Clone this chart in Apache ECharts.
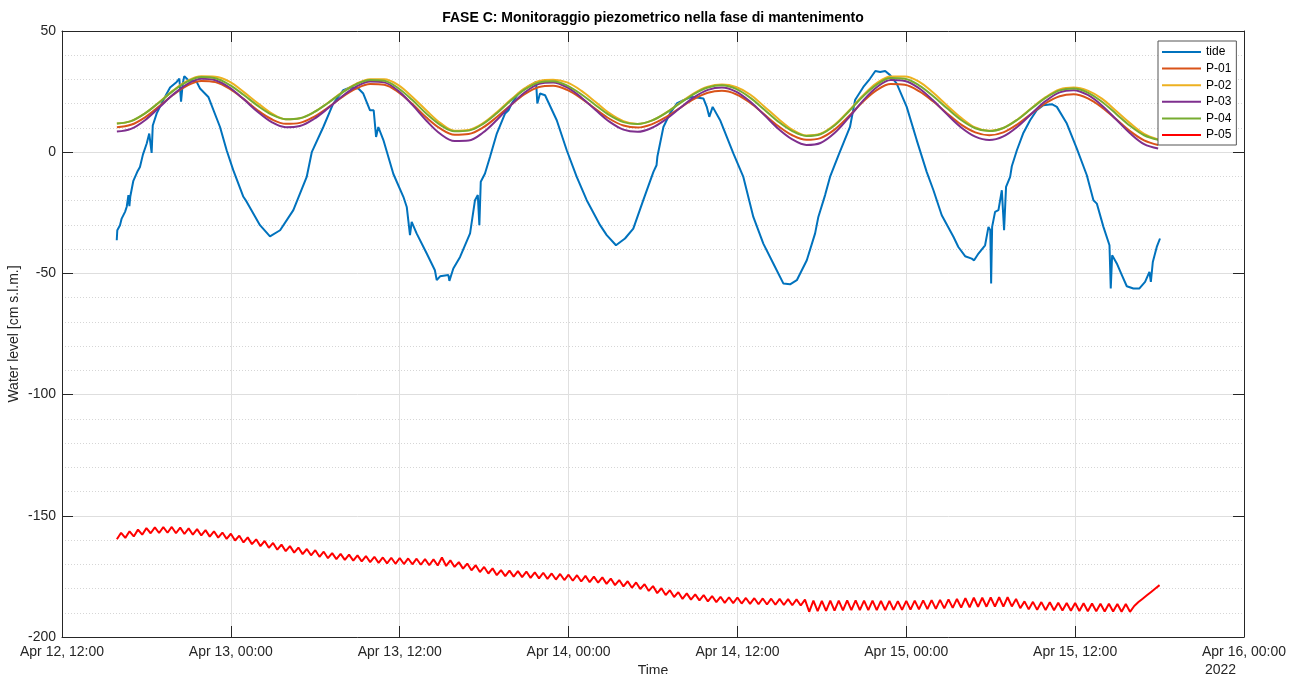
<!DOCTYPE html>
<html>
<head>
<meta charset="utf-8">
<script src="https://cdn.jsdelivr.net/npm/echarts@6/dist/echarts.min.js"></script>
<style>
html,body{margin:0;padding:0;background:#fff;}
#chart{width:1294px;height:674px;}
</style>
</head>
<body>
<div id="chart"></div>
<script>
// ---- Data (hours since Apr 12 2022, 12:00) ----
const xTickLabels = ['Apr 12, 12:00','Apr 13, 00:00','Apr 13, 12:00','Apr 14, 00:00','Apr 14, 12:00','Apr 15, 00:00','Apr 15, 12:00','Apr 16, 00:00'];
const yTicks = [-200, -150, -100, -50, 0, 50];
const seriesNames = ['tide','P-01','P-02','P-03','P-04','P-05'];

const tideHours = [
3.89,3.93,4.12,4.24,4.48,4.60,4.72,4.79,4.85,5.07,5.35,5.54,5.75,6.02,6.20,6.37,6.45,6.73,7.20,7.68,
8.15,8.34,8.46,8.58,8.69,8.98,9.57,9.81,10.40,11.23,11.70,12.17,12.89,13.13,14.07,14.78,15.50,16.44,17.39,17.75,
18.57,19.28,19.99,20.47,21.06,21.41,21.89,22.15,22.32,22.48,22.84,23.55,24.26,24.50,24.73,24.85,25.20,25.92,26.50,26.63,
26.87,27.46,27.53,27.81,28.29,29.00,29.35,29.55,29.66,29.76,30.06,30.42,30.90,31.49,31.73,31.96,32.43,33.03,33.50,33.69,
33.78,33.97,34.33,35.16,35.87,36.58,37.29,38.24,38.71,39.37,40.01,40.60,41.31,42.03,42.25,42.31,42.74,43.21,43.69,44.16,
44.75,45.10,45.58,45.82,46.00,46.24,46.77,47.71,48.42,49.13,49.84,50.55,51.27,51.74,52.22,52.93,53.52,53.75,54.23,54.58,
55.20,56.00,56.36,56.95,57.43,57.80,58.14,58.50,58.85,59.32,60.03,60.74,61.45,61.93,62.52,63.35,63.70,64.18,64.65,64.82,
65.13,65.60,65.84,65.97,66.03,66.10,66.31,66.55,66.79,66.95,67.09,67.38,67.50,67.86,68.30,68.80,69.27,69.74,70.34,70.70,
71.41,72.12,72.83,73.30,73.54,74.01,74.44,74.53,74.63,74.96,75.32,75.67,76.14,76.57,76.97,77.28,77.38,77.52,77.80,78.03];
const tideLevels = [
-36.3,-32.2,-30.1,-27.4,-24.6,-22.5,-17.7,-22.3,-18.4,-11.8,-8.1,-6.1,-1.0,3.6,7.7,-0.3,11.0,16.0,21.5,26.7,
29.0,30.4,20.8,28.3,31.4,29.7,29.0,26.3,22.8,10.4,0.8,-7.4,-18.4,-20.5,-30.1,-34.7,-32.2,-23.9,-10.2,0.0,
10.4,20.1,25.6,26.7,26.3,24.2,17.3,17.3,6.3,10.4,5.0,-9.0,-18.4,-22.6,-34.2,-28.7,-33.5,-41.8,-48.7,-52.8,
-51.2,-50.7,-53.1,-48.0,-43.2,-33.5,-19.8,-17.7,-30.1,-12.2,-8.8,-1.9,7.7,16.0,17.3,20.1,24.2,26.7,28.3,29.0,
20.1,24.2,23.5,13.2,0.8,-10.2,-19.8,-30.1,-34.2,-38.4,-35.6,-31.5,-19.8,-8.1,-5.4,-1.9,10.4,16.0,20.1,21.5,
22.8,22.6,22.2,18.7,14.6,18.7,13.2,-0.5,-10.2,-26.7,-37.7,-45.9,-54.2,-54.5,-52.8,-44.6,-33.5,-26.7,-17.7,-10.2,
-1.0,10.4,21.5,26.9,30.4,33.5,33.1,33.5,31.8,28.3,18.7,5.0,-8.1,-15.7,-26.0,-34.9,-39.1,-42.9,-43.9,-44.6,
-41.8,-38.4,-30.8,-32.2,-54.2,-30.8,-24.6,-23.9,-15.7,-32.2,-14.3,-10.2,-5.8,0.8,7.7,13.2,17.3,19.4,19.8,18.7,
11.8,1.5,-9.5,-19.8,-21.2,-30.8,-38.4,-56.2,-42.5,-45.9,-50.7,-55.3,-56.2,-56.2,-53.5,-49.4,-53.5,-45.3,-39.1,-35.6];

// piezometers P-01..P-04: hourly samples from hour 3.9
const PIEZO_START = 3.9, PIEZO_STEP = 1.0;
const p01 = [10.3,11.3,14.4,18.9,23.7,27.5,29.4,28.9,26.2,22.0,17.3,13.6,11.7,12.1,14.6,18.4,22.7,26.2,28.1,27.8,
24.8,19.9,14.3,9.7,7.2,7.5,10.1,14.5,19.5,24.0,26.9,27.4,25.7,22.2,17.9,13.8,11.0,10.2,11.5,14.4,
18.2,21.9,24.5,25.3,23.9,20.4,15.6,10.8,7.0,5.1,5.8,9.3,14.7,20.7,25.6,28.1,27.8,25.2,21.0,16.0,
11.4,8.2,7.0,8.2,11.5,15.9,20.2,23.1,23.9,22.2,18.5,13.7,8.7,4.9,3.0];
const p02 = [11.8,12.8,16.0,20.6,25.5,29.4,31.3,31.1,29.1,24.9,20.3,16.0,13.6,14.0,16.5,20.4,24.7,28.2,30.1,30.1,
27.7,22.8,17.2,12.0,8.9,9.2,11.9,16.5,21.7,26.4,29.4,29.9,28.8,25.4,20.8,16.1,12.8,11.6,13.0,16.2,
20.3,24.3,27.0,27.9,26.9,23.8,18.9,13.8,9.3,6.9,7.6,11.3,17.0,23.3,28.5,31.2,31.2,29.1,24.6,19.3,
14.2,10.2,8.8,10.0,13.5,18.2,22.7,25.9,26.7,25.4,22.1,17.1,12.0,7.6,5.3];
const p03 = [8.5,9.6,13.2,18.4,23.8,28.1,30.3,29.7,26.7,21.9,16.7,12.4,10.3,10.8,13.7,18.1,23.0,27.0,29.2,28.8,
25.3,19.5,13.0,7.5,4.6,4.8,8.0,13.3,19.4,24.7,28.2,28.8,26.7,22.6,17.5,12.6,9.3,8.4,10.0,13.5,
18.1,22.6,25.7,26.7,25.0,20.9,15.4,9.7,5.3,3.0,3.8,7.9,14.2,21.1,26.8,29.8,29.4,26.4,21.4,15.6,
10.2,6.4,5.0,6.5,10.5,15.9,21.1,24.7,25.6,23.6,19.3,13.6,7.8,3.3,1.5];
const p04 = [11.8,12.8,16.0,20.5,25.3,29.1,31.0,30.5,27.8,23.7,19.2,15.5,13.6,14.0,16.5,20.3,24.5,28.0,29.8,29.5,
26.4,21.5,15.9,11.2,8.6,8.9,11.6,16.1,21.3,25.9,28.8,29.3,27.5,23.9,19.5,15.3,12.4,11.6,13.0,16.1,
20.1,24.0,26.7,27.6,26.1,22.5,17.6,12.6,8.7,6.7,7.4,11.0,16.7,22.9,27.9,30.6,30.3,27.6,23.2,18.1,
13.3,9.9,8.7,10.0,13.4,18.0,22.4,25.5,26.3,24.6,20.8,15.9,10.9,7.0,5.1];

// P-05: samples every 0.3 h from hour 3.9
const P05_START = 3.9, P05_STEP = 0.3;
const p05 = [
-159.7,-157.0,-159.1,-156.4,-158.5,-155.7,-157.8,-155.1,-157.2,-154.8,
-157.1,-154.7,-157.0,-154.6,-157.2,-154.9,-157.5,-155.2,-157.8,-155.5,
-158.1,-155.9,-158.6,-156.4,-159.0,-156.9,-159.5,-157.4,-160.2,-158.2,
-161.0,-158.9,-161.7,-159.7,-162.5,-160.4,-163.2,-161.2,-164.0,-161.9,
-164.6,-162.5,-165.2,-163.1,-165.8,-163.7,-166.3,-164.2,-166.9,-164.8,
-167.5,-165.4,-167.9,-165.7,-168.2,-166.0,-168.5,-166.3,-168.8,-166.6,
-169.1,-166.9,-169.4,-167.2,-169.6,-167.3,-169.8,-167.4,-169.9,-167.6,
-170.0,-167.7,-170.2,-167.9,-170.4,-168.0,-170.5,-167.2,-170.7,-168.4,
-171.1,-169.1,-171.8,-169.7,-172.5,-170.4,-173.2,-171.1,-173.8,-171.7,
-174.5,-172.4,-174.9,-172.6,-175.1,-172.8,-175.3,-173.0,-175.6,-173.3,
-175.8,-173.5,-176.0,-173.8,-176.3,-174.0,-176.5,-174.3,-176.8,-174.5,
-177.1,-174.8,-177.4,-175.1,-177.6,-175.4,-178.1,-175.9,-178.6,-176.5,
-179.1,-177.0,-179.7,-177.5,-180.2,-178.2,-181.0,-179.0,-181.9,-179.9,
-182.7,-180.7,-183.5,-181.5,-184.3,-182.0,-184.6,-182.4,-184.9,-182.7,
-185.3,-183.1,-185.6,-183.4,-185.9,-183.6,-186.0,-183.7,-186.2,-183.9,
-186.3,-184.0,-186.5,-184.1,-186.6,-184.2,-186.7,-184.3,-186.8,-184.4,
-186.9,-184.5,-187.0,-184.6,-189.6,-185.0,-189.3,-185.1,-189.2,-185.0,
-189.1,-185.0,-189.0,-184.9,-188.9,-184.9,-188.9,-185.0,-188.9,-185.0,
-188.9,-185.1,-188.9,-185.1,-188.8,-185.2,-188.8,-185.1,-188.7,-185.0,
-188.6,-184.9,-188.5,-184.8,-188.4,-184.7,-188.2,-184.5,-188.0,-184.3,
-187.9,-184.0,-187.8,-183.8,-187.6,-183.8,-187.5,-183.7,-187.5,-183.6,
-187.5,-183.6,-187.4,-184.3,-188.1,-185.3,-188.6,-185.5,-188.8,-185.6,
-188.9,-185.7,-189.0,-185.9,-189.1,-186.0,-189.2,-186.0,-189.3,-186.1,
-189.4,-186.2,-189.4,-186.3,-189.5,-186.3,-189.5,-186.4,-189.6,-186.4,
-189.6,-187.2,-185.6,-184.2,-182.8,-181.4,-180.0,-178.6];

const colors = ['#0072BD','#D95319','#EDB120','#7E2F8E','#77AC30','#FF0000'];

// ---- Build ----
const FONT = '"Liberation Sans", Arial, Helvetica, sans-serif';
const AX = '#262626';
const pair = (start, step, arr) => arr.map((v, i) => [+(start + i * step).toFixed(3), v]);
const seriesData = [
  tideHours.map((h, i) => [h, tideLevels[i]]),
  pair(PIEZO_START, PIEZO_STEP, p01),
  pair(PIEZO_START, PIEZO_STEP, p02),
  pair(PIEZO_START, PIEZO_STEP, p03),
  pair(PIEZO_START, PIEZO_STEP, p04),
  pair(P05_START, P05_STEP, p05)
];

const chart = echarts.init(document.getElementById('chart'), null, {renderer: 'canvas'});
const axisCommonX = {type: 'value', min: 0, max: 84, interval: 12};
const axisCommonY = {type: 'value', min: yTicks[0], max: yTicks[yTicks.length - 1], interval: 50};

chart.setOption({
  animation: false,
  backgroundColor: '#fff',
  textStyle: {fontFamily: FONT},
  title: {
    text: 'FASE C: Monitoraggio piezometrico nella fase di mantenimento',
    left: 653, top: 11, textAlign: 'center', padding: 0,
    textStyle: {fontFamily: FONT, fontSize: 14, fontWeight: 'bold', color: '#000'}
  },
  grid: {left: 62, right: 50, top: 31, bottom: 37, containLabel: false, outerBoundsMode: 'none'},
  legend: {
    orient: 'vertical', left: 1158, top: 41,
    icon: 'rect',
    itemWidth: 39, itemHeight: 2, itemGap: 2.6,
    padding: [4, 5, 3, 4],
    backgroundColor: '#fff', borderColor: '#555', borderWidth: 1, borderRadius: 0,
    textStyle: {fontFamily: FONT, fontSize: 12, color: '#000', lineHeight: 14, height: 14},
    data: seriesNames
  },
  xAxis: [
    Object.assign({}, axisCommonX, {
      position: 'bottom',
      name: 'Time', nameLocation: 'middle', nameGap: 27, nameMoveOverlap: false,
      nameTextStyle: {fontFamily: FONT, fontSize: 14, color: AX},
      axisLine: {show: true, onZero: false, lineStyle: {color: AX, width: 1}},
      axisTick: {show: true, inside: true, length: 11, lineStyle: {color: AX}},
      axisLabel: {show: true, margin: 8, fontSize: 14, color: AX, fontFamily: FONT,
        showMinLabel: true, showMaxLabel: true, hideOverlap: false,
        formatter: v => xTickLabels[Math.round(v / 12)] || ''},
      splitLine: {show: true, lineStyle: {color: '#e0e0e0', width: 1}}
    }),
    Object.assign({}, axisCommonX, {
      position: 'top',
      axisLine: {show: true, onZero: false, lineStyle: {color: AX, width: 1}},
      axisTick: {show: true, inside: true, length: 11, lineStyle: {color: AX}},
      axisLabel: {show: false},
      splitLine: {show: false}
    })
  ],
  yAxis: [
    Object.assign({}, axisCommonY, {
      position: 'left',
      name: 'Water level [cm s.l.m.]', nameLocation: 'middle', nameGap: 41, nameMoveOverlap: false,
      nameTextStyle: {fontFamily: FONT, fontSize: 14, color: AX},
      axisLine: {show: true, onZero: false, lineStyle: {color: AX, width: 1}},
      axisTick: {show: true, inside: true, length: 11, lineStyle: {color: AX}},
      axisLabel: {show: true, margin: 6, fontSize: 14, color: AX, fontFamily: FONT},
      splitLine: {show: true, lineStyle: {color: '#dedede', width: 1}},
      minorTick: {show: false, splitNumber: 5},
      minorSplitLine: {show: true, lineStyle: {color: '#d6d6d6', width: 1, type: [1, 2]}}
    }),
    Object.assign({}, axisCommonY, {
      position: 'right',
      axisLine: {show: true, onZero: false, lineStyle: {color: AX, width: 1}},
      axisTick: {show: true, inside: true, length: 11, lineStyle: {color: AX}},
      axisLabel: {show: false},
      splitLine: {show: false}
    })
  ],
  graphic: [{
    type: 'text', left: 1205, top: 663,
    style: {text: '2022', fontFamily: FONT, fontSize: 14, fill: AX}
  }],
  series: seriesNames.map((name, i) => ({
    name: name,
    type: 'line',
    xAxisIndex: 0, yAxisIndex: 0,
    data: seriesData[i],
    showSymbol: false, symbol: 'none',
    smooth: (i >= 1 && i <= 4) ? 0.35 : false,
    lineStyle: {color: colors[i], width: 2},
    itemStyle: {color: colors[i]},
    emphasis: {disabled: true}
  }))
});
</script>
</body>
</html>
